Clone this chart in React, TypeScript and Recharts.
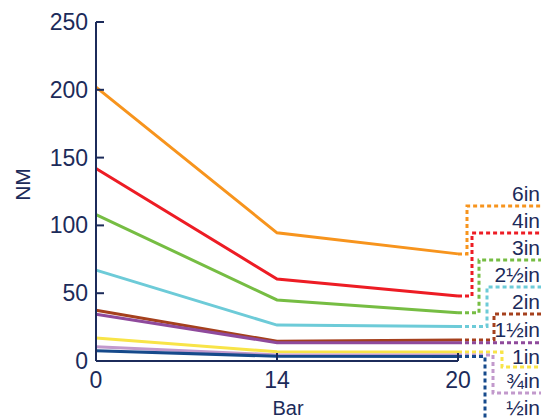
import { LineChart, Line, XAxis, YAxis } from "recharts"

const navy = "#1c2b5a"
const font = "'Liberation Sans', Arial, sans-serif"

const bars = ["0", "14", "20"]
const sizes = ["6in", "4in", "3in", "2½in", "2in", "1½in", "1in", "¾in", "½in"]
const yTicks = [0, 50, 100, 150, 200, 250]

const nm6in = [202, 94.5, 79]
const nm4in = [142, 60.5, 48]
const nm3in = [108, 45, 35.5]
const nm2_5in = [67, 26.5, 25.5]
const nm2in = [37.5, 14.5, 15.5]
const nm1_5in = [34.5, 13.5, 13.5]
const nm1in = [17, 6.8, 6.6]
const nm3_4in = [10.5, 4.5, 4.4]
const nm1_2in = [7.5, 3.5, 3.3]

const series = [nm6in, nm4in, nm3in, nm2_5in, nm2in, nm1_5in, nm1in, nm3_4in, nm1_2in]

// line colour + where the dotted leader bends and where its label sits
const styles = [
  { color: "#f7941d", bendX: 467, leadY: 206, textY: 201 },
  { color: "#ed1c24", bendX: 472, leadY: 233, textY: 228 },
  { color: "#76bd43", bendX: 479, leadY: 260, textY: 255 },
  { color: "#6dcbd8", bendX: 487, leadY: 287, textY: 282 },
  { color: "#a5401d", bendX: 494, leadY: 314, textY: 309 },
  { color: "#8f4a9c", bendX: null, leadY: 342, textY: 337 },
  { color: "#f8e448", bendX: 502, leadY: 367, textY: 364 },
  { color: "#c299cc", bendX: 493, leadY: 393, textY: 388 },
  { color: "#164a8b", bendX: 485, leadY: 440, textY: 415 },
]

const data = bars.map((b, i) => {
  const row: Record<string, any> = { bar: b }
  series.forEach((s, k) => (row["s" + k] = s[i]))
  return row
})

const YTick = ({ x, y, payload }: any) => (
  <g>
    <line x1={x + 8} x2={x + 16} y1={y} y2={y} stroke={navy} strokeWidth={2} />
    <text x={x} y={y + 8} textAnchor="end" fontSize={23} fontFamily={font} fill={navy}>
      {payload.value}
    </text>
  </g>
)

const XTick = ({ x, y, payload }: any) => (
  <g>
    <line x1={x} x2={x} y1={y - 10} y2={y - 18} stroke={navy} strokeWidth={2} />
    <text x={x} y={y + 17} textAnchor="middle" fontSize={23} fontFamily={font} fill={navy}>
      {payload.value}
    </text>
  </g>
)

const leader = (k: number) => (props: any) => {
  const { cx, cy, index } = props
  const st = styles[k]
  if (index !== bars.length - 1) return <g key={`d-${k}-${index}`} />
  let d = `M${cx},${cy}`
  if (st.bendX == null) d += ` H541`
  else if (k === series.length - 1) d += ` H${st.bendX} V${st.leadY}`
  else d += ` H${st.bendX} V${st.leadY} H541`
  return (
    <g key={`d-${k}-${index}`}>
      <path d={d} fill="none" stroke={st.color} strokeWidth={3} strokeDasharray="4 3" />
      <text x={540} y={st.textY} textAnchor="end" fontSize={21} fontFamily={font} fill={navy}>
        {sizes[k]}
      </text>
    </g>
  )
}

export default function App() {
  return (
    <div style={{ position: "absolute", left: 0, top: 0, background: "#fff" }}>
      <LineChart width={541} height={420} data={data} margin={{ top: 22, right: 83, bottom: 0, left: 0 }}>
        <XAxis
          dataKey="bar"
          height={59}
          axisLine={{ stroke: navy, strokeWidth: 2 }}
          tickLine={false}
          tickSize={0}
          tickMargin={10}
          tick={<XTick />}
          label={{
            content: (p: any) => (
              <text
                x={p.viewBox.x + p.viewBox.width / 2 + 11}
                y={p.viewBox.y + 54}
                textAnchor="middle"
                fontSize={20}
                fontFamily={font}
                fill={navy}
              >
                Bar
              </text>
            ),
          }}
        />
        <YAxis
          width={96}
          domain={[0, 250]}
          ticks={yTicks}
          axisLine={{ stroke: navy, strokeWidth: 2 }}
          tickLine={false}
          tickSize={0}
          tickMargin={8}
          tick={<YTick />}
          label={{
            content: (p: any) => {
              const cx = p.viewBox.x + 22
              const cy = p.viewBox.y + p.viewBox.height / 2 - 7
              return (
                <text
                  x={cx}
                  y={cy}
                  transform={`rotate(-90 ${cx} ${cy})`}
                  textAnchor="middle"
                  dominantBaseline="central"
                  fontSize={21}
                  fontFamily={font}
                  fill={navy}
                >
                  NM
                </text>
              )
            },
          }}
        />
        {series.map((_, k) => (
          <Line
            key={k}
            type="linear"
            dataKey={"s" + k}
            stroke={styles[k].color}
            strokeWidth={3}
            dot={leader(k)}
            activeDot={false}
            isAnimationActive={false}
          />
        ))}
      </LineChart>
    </div>
  )
}
